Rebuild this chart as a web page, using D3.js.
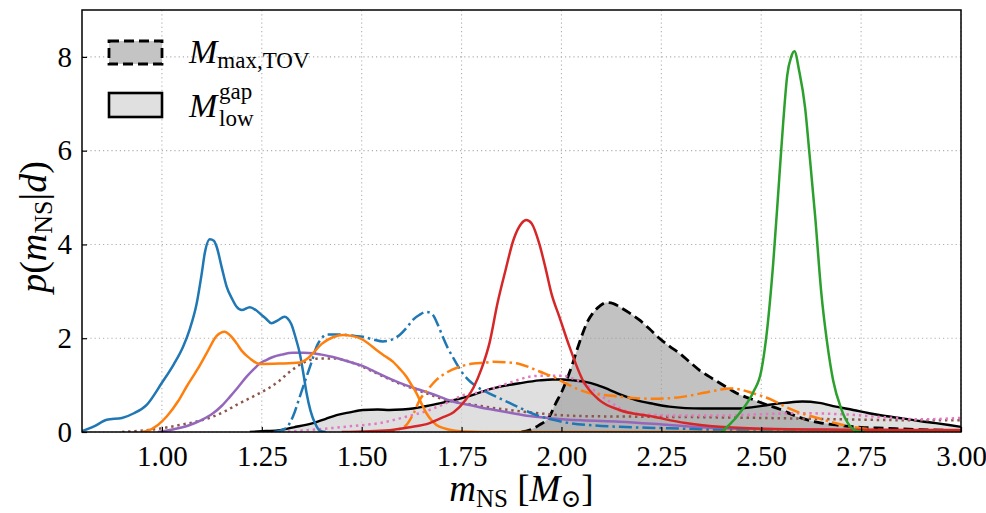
<!DOCTYPE html>
<html>
<head>
<meta charset="utf-8">
<script src="https://cdn.jsdelivr.net/npm/d3@7"></script>
<style>
  html, body { margin: 0; padding: 0; background: #fff; }
  svg { display: block; }
  text { font-family: "Liberation Serif", "DejaVu Serif", serif; fill: #000; }
</style>
</head>
<body>
<svg id="chart" width="986" height="513"></svg>
<script>
// ---------------- data ----------------
const xTicks = [1.00, 1.25, 1.50, 1.75, 2.00, 2.25, 2.50, 2.75, 3.00];
const yTicks = [0, 2, 4, 6, 8];
const legendLabels = ["max,TOV", "gap/low"];

// shaded distributions
const mMaxTOV = [[1.90,0],[1.92,0.04],[1.945,0.15],[1.97,0.33],[1.985,0.6],[2.003,0.9],[2.015,1.15],[2.028,1.46],[2.04,1.78],[2.053,2.1],[2.065,2.35],[2.078,2.53],[2.095,2.68],[2.112,2.76],[2.13,2.74],[2.145,2.67],[2.17,2.54],[2.195,2.39],[2.22,2.2],[2.245,2.0],[2.27,1.83],[2.295,1.68],[2.32,1.5],[2.345,1.32],[2.37,1.18],[2.395,1.05],[2.42,0.92],[2.445,0.8],[2.47,0.72],[2.495,0.64],[2.52,0.56],[2.545,0.49],[2.575,0.38],[2.603,0.29],[2.645,0.2],[2.687,0.15],[2.75,0.1],[2.81,0.08],[2.9,0.05],[3.0,0.03]];
const mLowGap = [[1.22,0],[1.26,0.02],[1.295,0.04],[1.33,0.1],[1.378,0.19],[1.41,0.28],[1.437,0.36],[1.47,0.42],[1.503,0.47],[1.54,0.48],[1.57,0.47],[1.60,0.48],[1.628,0.5],[1.66,0.55],[1.695,0.61],[1.73,0.68],[1.762,0.75],[1.795,0.84],[1.828,0.93],[1.86,0.99],[1.895,1.04],[1.945,1.1],[1.978,1.12],[2.003,1.12],[2.03,1.1],[2.06,1.07],[2.09,1.0],[2.12,0.9],[2.15,0.79],[2.187,0.68],[2.23,0.6],[2.27,0.54],[2.31,0.51],[2.353,0.5],[2.4,0.5],[2.437,0.5],[2.48,0.53],[2.52,0.58],[2.56,0.62],[2.603,0.65],[2.645,0.62],[2.687,0.54],[2.73,0.47],[2.77,0.4],[2.81,0.34],[2.853,0.29],[2.9,0.23],[2.937,0.19],[2.97,0.15],[3.0,0.11]];

// coloured posteriors
const blueSolid = [[0.80,0.02],[0.83,0.12],[0.862,0.26],[0.90,0.3],[0.93,0.4],[0.962,0.58],[1.00,1.05],[1.03,1.45],[1.053,1.82],[1.07,2.2],[1.087,2.74],[1.10,3.4],[1.107,3.8],[1.12,4.11],[1.13,4.08],[1.137,3.95],[1.15,3.5],[1.162,3.1],[1.175,2.85],[1.187,2.67],[1.20,2.6],[1.22,2.66],[1.235,2.6],[1.245,2.53],[1.26,2.42],[1.274,2.32],[1.29,2.38],[1.307,2.46],[1.315,2.42],[1.324,2.3],[1.335,2.0],[1.345,1.68],[1.355,1.2],[1.362,0.83],[1.372,0.45],[1.383,0.19],[1.395,0.03],[1.41,0]];
const orangeSolid = [[0.95,0],[0.962,0.02],[0.99,0.15],[1.012,0.33],[1.04,0.65],[1.062,0.97],[1.09,1.35],[1.112,1.68],[1.137,2.05],[1.157,2.14],[1.172,2.05],[1.187,1.89],[1.20,1.73],[1.22,1.57],[1.245,1.45],[1.295,1.46],[1.345,1.48],[1.362,1.55],[1.378,1.68],[1.40,1.88],[1.428,2.02],[1.453,2.07],[1.475,2.05],[1.495,2.0],[1.515,1.9],[1.537,1.75],[1.558,1.62],[1.578,1.5],[1.595,1.35],[1.612,1.18],[1.625,1.0],[1.637,0.83],[1.65,0.6],[1.662,0.4],[1.675,0.25],[1.687,0.15],[1.71,0.07],[1.73,0.03],[1.76,0.01],[1.8,0],[3.0,0]];
const greenSolid = [[2.40,0],[2.42,0.15],[2.45,0.45],[2.48,0.85],[2.50,1.3],[2.515,2.2],[2.53,3.6],[2.545,5.4],[2.555,6.6],[2.565,7.6],[2.575,8.0],[2.583,8.12],[2.595,7.7],[2.61,6.9],[2.62,6.0],[2.635,4.6],[2.65,3.0],[2.665,1.9],[2.68,1.1],[2.70,0.5],[2.72,0.15],[2.74,0.02],[2.76,0]];
const redSolid = [[1.45,0],[1.57,0.04],[1.62,0.1],[1.67,0.19],[1.70,0.3],[1.73,0.42],[1.76,0.68],[1.78,0.95],[1.80,1.35],[1.82,1.9],[1.84,2.75],[1.86,3.45],[1.88,4.1],[1.90,4.45],[1.912,4.52],[1.925,4.45],[1.945,4.0],[1.96,3.5],[1.975,2.95],[1.995,2.45],[2.02,1.82],[2.053,1.11],[2.095,0.68],[2.145,0.47],[2.228,0.33],[2.31,0.19],[2.395,0.11],[2.5,0.07],[2.7,0.05],[3.0,0.04]];
const purpleSolid = [[0.99,0],[1.03,0.06],[1.07,0.15],[1.10,0.26],[1.128,0.4],[1.15,0.56],[1.17,0.75],[1.19,0.95],[1.212,1.18],[1.23,1.34],[1.245,1.46],[1.26,1.53],[1.278,1.6],[1.30,1.65],[1.328,1.69],[1.355,1.69],[1.378,1.68],[1.40,1.65],[1.428,1.6],[1.46,1.52],[1.495,1.43],[1.53,1.3],[1.57,1.14],[1.61,1.0],[1.645,0.9],[1.69,0.77],[1.728,0.65],[1.76,0.59],[1.795,0.53],[1.84,0.46],[1.878,0.4],[1.92,0.34],[1.978,0.29],[2.05,0.25],[2.145,0.22],[2.27,0.15],[2.395,0.08],[2.545,0.06],[2.7,0.04],[3.0,0.02]];
const brownDotted = [[0.90,0],[0.962,0.04],[1.0,0.08],[1.045,0.15],[1.09,0.23],[1.128,0.33],[1.16,0.45],[1.187,0.58],[1.215,0.7],[1.245,0.83],[1.27,0.95],[1.295,1.1],[1.315,1.25],[1.337,1.39],[1.36,1.5],[1.378,1.55],[1.40,1.57],[1.43,1.57],[1.462,1.52],[1.50,1.4],[1.545,1.22],[1.59,1.05],[1.628,0.93],[1.67,0.8],[1.712,0.68],[1.75,0.62],[1.795,0.56],[1.84,0.5],[1.878,0.46],[1.92,0.42],[1.98,0.37],[2.05,0.34],[2.15,0.33],[2.3,0.32],[2.5,0.3],[2.7,0.27],[2.9,0.25],[3.0,0.25]];
const pinkDotted = [[1.30,0],[1.35,0.03],[1.42,0.08],[1.48,0.13],[1.545,0.19],[1.60,0.3],[1.67,0.47],[1.72,0.65],[1.753,0.78],[1.795,0.85],[1.853,1.0],[1.895,1.12],[1.92,1.18],[1.95,1.2],[2.0,1.2],[2.04,1.1],[2.08,0.9],[2.12,0.65],[2.16,0.45],[2.2,0.38],[2.3,0.35],[2.4,0.35],[2.5,0.38],[2.6,0.4],[2.7,0.38],[2.8,0.32],[2.9,0.27],[3.0,0.3]];
const blueDashDot = [[1.28,0],[1.31,0.08],[1.328,0.33],[1.345,0.75],[1.362,1.18],[1.375,1.5],[1.387,1.82],[1.40,2.0],[1.412,2.08],[1.44,2.08],[1.462,2.07],[1.483,2.05],[1.503,2.03],[1.53,1.97],[1.553,1.93],[1.575,1.97],[1.595,2.07],[1.612,2.22],[1.628,2.39],[1.645,2.5],[1.662,2.56],[1.67,2.55],[1.678,2.5],[1.69,2.3],[1.703,2.03],[1.715,1.8],[1.728,1.6],[1.74,1.42],[1.753,1.25],[1.775,1.05],[1.795,0.93],[1.82,0.82],[1.845,0.72],[1.87,0.62],[1.895,0.52],[1.92,0.42],[1.945,0.34],[1.98,0.26],[2.02,0.19],[2.08,0.14],[2.145,0.11],[2.27,0.08],[2.4,0.04],[2.6,0.02],[3.0,0.01]];
const orangeDashDot = [[1.55,0],[1.59,0.05],[1.612,0.15],[1.63,0.4],[1.645,0.68],[1.665,0.9],[1.687,1.11],[1.715,1.28],[1.745,1.39],[1.78,1.46],[1.81,1.48],[1.83,1.5],[1.86,1.49],[1.895,1.45],[1.92,1.38],[1.945,1.29],[1.978,1.18],[2.01,1.04],[2.045,0.9],[2.07,0.83],[2.103,0.79],[2.15,0.75],[2.187,0.72],[2.23,0.71],[2.27,0.72],[2.31,0.76],[2.353,0.83],[2.39,0.89],[2.42,0.93],[2.45,0.9],[2.478,0.83],[2.528,0.68],[2.56,0.54],[2.60,0.4],[2.645,0.29],[2.69,0.18],[2.728,0.11],[2.77,0.06],[2.81,0.04],[2.9,0.02],[3.0,0.01]];

// ---------------- layout ----------------
const svg = d3.select("#chart");
const L = 82, R = 961, T = 10, B = 432;
const x = d3.scaleLinear().domain([0.8, 3.0]).range([L, R]);
const y = d3.scaleLinear().domain([0, 9]).range([B, T]);

svg.append("defs").append("clipPath").attr("id", "clip")
  .append("rect").attr("x", L).attr("y", T).attr("width", R - L).attr("height", B - T);

// grid
const grid = svg.append("g");
xTicks.forEach(v => grid.append("line")
  .attr("x1", x(v)).attr("x2", x(v)).attr("y1", T).attr("y2", B)
  .attr("stroke", "#b0b0b0").attr("stroke-width", 1.1).attr("stroke-dasharray", "1.2,3"));
yTicks.forEach(v => grid.append("line")
  .attr("x1", L).attr("x2", R).attr("y1", y(v)).attr("y2", y(v))
  .attr("stroke", "#b0b0b0").attr("stroke-width", 1.1).attr("stroke-dasharray", "1.2,3"));

const plot = svg.append("g").attr("clip-path", "url(#clip)");
const line = d3.line().x(d => x(d[0])).y(d => y(d[1])).curve(d3.curveMonotoneX);
const area = d3.area().x(d => x(d[0])).y0(y(0)).y1(d => y(d[1])).curve(d3.curveMonotoneX);

// fills
plot.append("path").datum(mLowGap).attr("d", area).attr("fill", "#d3d3d3").attr("fill-opacity", 0.72);
plot.append("path").datum(mMaxTOV).attr("d", area).attr("fill", "#9a9a9a").attr("fill-opacity", 0.6);

// black outlines
plot.append("path").datum(mLowGap).attr("d", line).attr("fill", "none")
  .attr("stroke", "#000").attr("stroke-width", 2.4);
plot.append("path").datum(mMaxTOV).attr("d", line).attr("fill", "none")
  .attr("stroke", "#000").attr("stroke-width", 2.8).attr("stroke-dasharray", "10,5");

// coloured curves
const series = [
  { data: brownDotted,   color: "#8c564b", dash: "2.4,3.8" },
  { data: pinkDotted,    color: "#e377c2", dash: "2.4,3.8" },
  { data: purpleSolid,   color: "#9467bd", dash: null },
  { data: blueDashDot,   color: "#1f77b4", dash: "13,4,2.5,4" },
  { data: orangeDashDot, color: "#ff7f0e", dash: "13,4,2.5,4" },
  { data: blueSolid,     color: "#1f77b4", dash: null },
  { data: orangeSolid,   color: "#ff7f0e", dash: null },
  { data: redSolid,      color: "#d62728", dash: null },
  { data: greenSolid,    color: "#2ca02c", dash: null }
];
series.forEach(s => {
  const p = plot.append("path").datum(s.data).attr("d", line).attr("fill", "none")
    .attr("stroke", s.color).attr("stroke-width", 2.5).attr("stroke-linejoin", "round");
  if (s.dash) p.attr("stroke-dasharray", s.dash);
});

// frame
svg.append("rect").attr("x", L).attr("y", T).attr("width", R - L).attr("height", B - T)
  .attr("fill", "none").attr("stroke", "#000").attr("stroke-width", 1.5);

// axes (ticks pointing inward)
const xAxis = d3.axisBottom(x).tickValues(xTicks).tickFormat(d3.format(".2f"))
  .tickSizeInner(-5).tickSizeOuter(0).tickPadding(13);
const gx = svg.append("g").attr("transform", `translate(0,${B})`).call(xAxis);
gx.select(".domain").remove();
gx.selectAll("line").attr("stroke", "#000").attr("stroke-width", 1.2);
gx.selectAll("text").attr("font-family", "Liberation Serif").attr("font-size", 29)
  .attr("dy", "0.71em");

const yAxis = d3.axisLeft(y).tickValues(yTicks).tickFormat(d3.format("d"))
  .tickSizeInner(-5).tickSizeOuter(0).tickPadding(10);
const gy = svg.append("g").attr("transform", `translate(${L},0)`).call(yAxis);
gy.select(".domain").remove();
gy.selectAll("line").attr("stroke", "#000").attr("stroke-width", 1.2);
gy.selectAll("text").attr("font-family", "Liberation Serif").attr("font-size", 29);

// axis labels
const xl = svg.append("text").attr("x", (L + R) / 2).attr("y", 501)
  .attr("text-anchor", "middle").attr("font-size", 37);
xl.append("tspan").attr("font-style", "italic").text("m");
xl.append("tspan").attr("font-size", 25).attr("dy", 6).text("NS");
xl.append("tspan").attr("dy", -6).text(" [");
xl.append("tspan").attr("font-style", "italic").text("M");
xl.append("tspan").attr("font-size", 25).attr("dy", 6).text("⊙");
xl.append("tspan").attr("dy", -6).text("]");

const yl = svg.append("text").attr("transform", `translate(46,${(T + B) / 2 + 6}) rotate(-90)`)
  .attr("text-anchor", "middle").attr("font-size", 38);
yl.append("tspan").attr("font-style", "italic").text("p");
yl.append("tspan").text("(");
yl.append("tspan").attr("font-style", "italic").text("m");
yl.append("tspan").attr("font-size", 26).attr("dy", 6).text("NS");
yl.append("tspan").attr("dy", -6).text("|");
yl.append("tspan").attr("font-style", "italic").text("d");
yl.append("tspan").text(")");

// legend
const lg = svg.append("g");
lg.append("rect").attr("x", 109).attr("y", 41).attr("width", 53).attr("height", 23)
  .attr("fill", "#c4c4c4").attr("stroke", "#000").attr("stroke-width", 2.8).attr("stroke-dasharray", "10,5");
lg.append("rect").attr("x", 109).attr("y", 93).attr("width", 53).attr("height", 24)
  .attr("fill", "#e0e0e0").attr("stroke", "#000").attr("stroke-width", 2.6);

const t1 = lg.append("text").attr("x", 189).attr("y", 63).attr("font-size", 34);
t1.append("tspan").attr("font-style", "italic").text("M");
t1.append("tspan").attr("font-size", 23).attr("dy", 5).text(legendLabels[0]);

const t2 = lg.append("text").attr("x", 189).attr("y", 117).attr("font-size", 34);
t2.append("tspan").attr("font-style", "italic").text("M");
const parts = legendLabels[1].split("/");
lg.append("text").attr("x", 219).attr("y", 99).attr("font-size", 23).text(parts[0]);
lg.append("text").attr("x", 219).attr("y", 126).attr("font-size", 23).text(parts[1]);
</script>
</body>
</html>
